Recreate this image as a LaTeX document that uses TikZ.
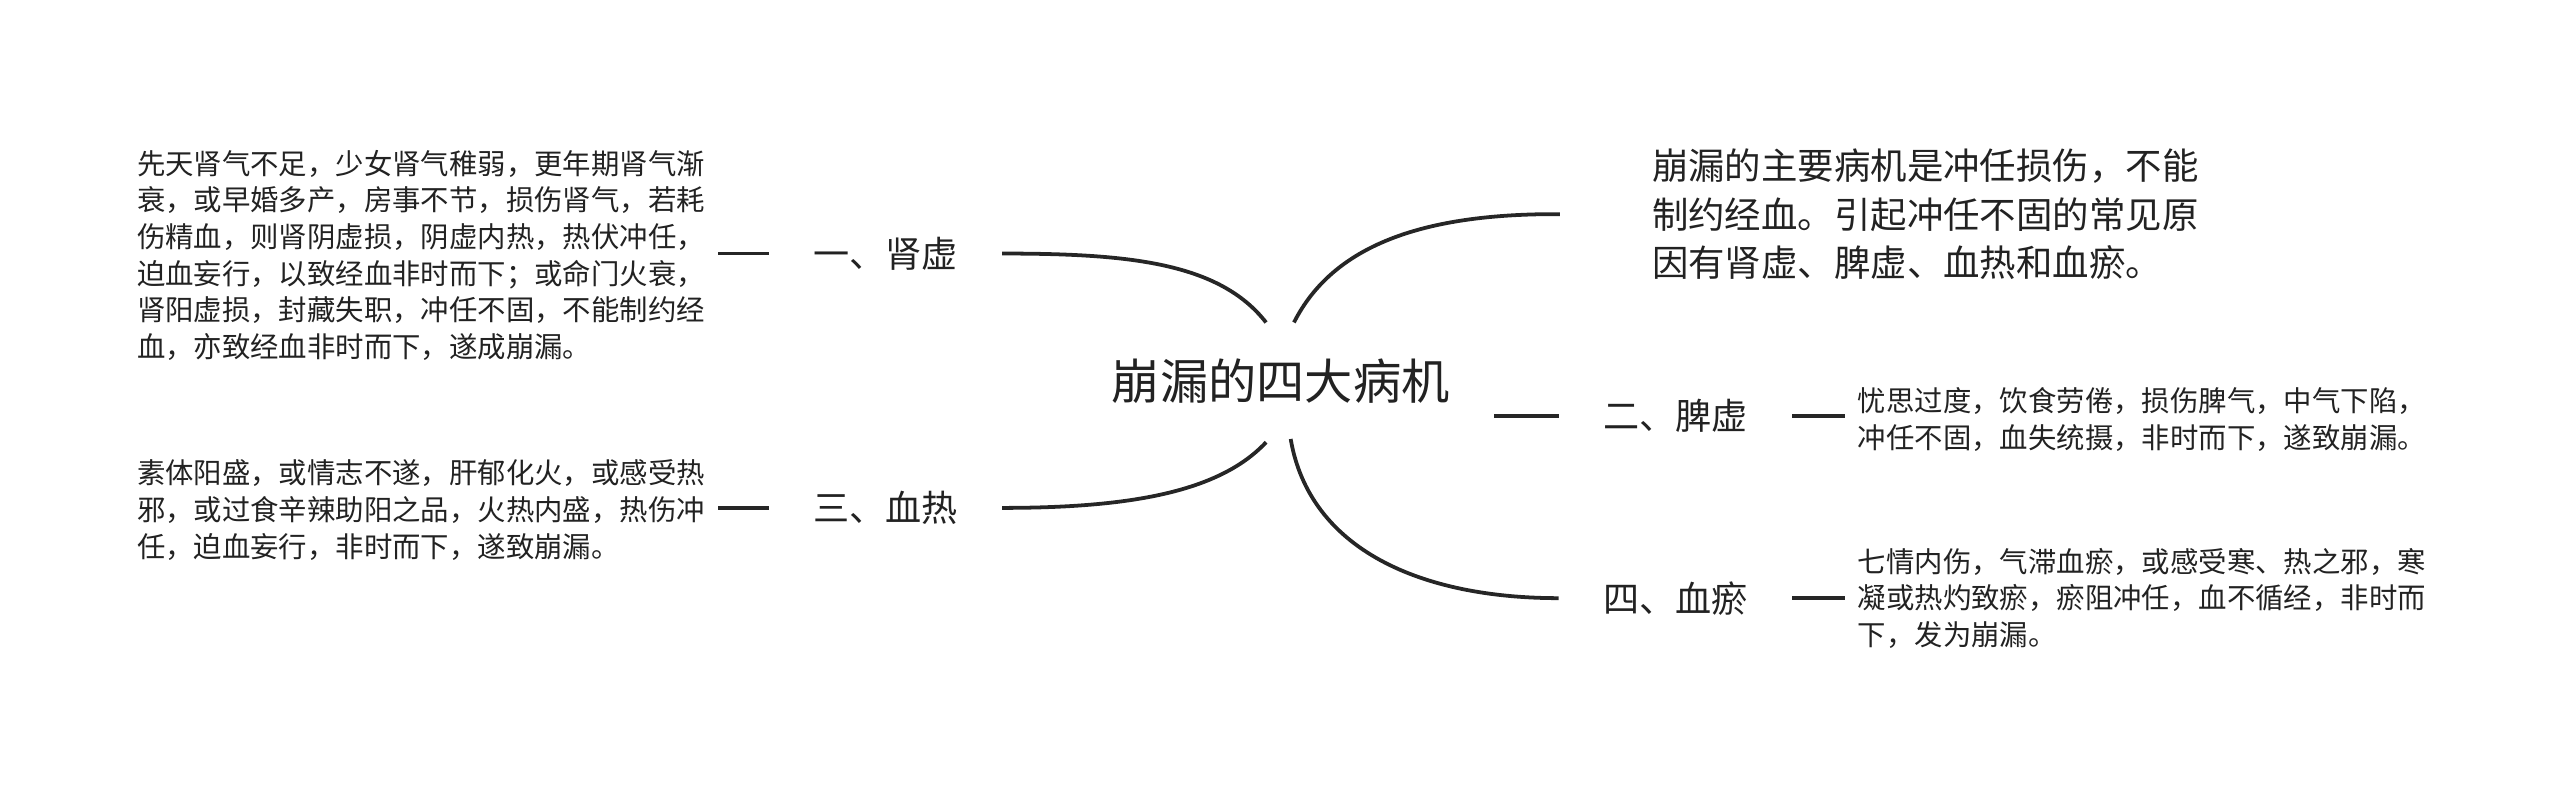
\documentclass[tikz,border=0pt]{standalone}
\usepackage{fontspec}
\newfontfamily\cjk{Noto Sans CJK SC}
\usetikzlibrary{calc}
\definecolor{ink}{HTML}{262626}
\definecolor{txt}{HTML}{222222}
\begin{document}
\begin{tikzpicture}[x=1pt,y=-1pt,
  body/.style={font=\cjk\fontsize{17.3}{22.3}\selectfont, text=txt, align=left, inner ysep=0pt, inner xsep=8pt},
  lab/.style={font=\cjk\fontsize{22}{27}\selectfont, text=txt, inner ysep=0pt, inner xsep=27pt},
  link/.style={draw=ink, line width=2.3pt},
]
\useasboundingbox (0,0) rectangle (1560,479);
\node[font=\cjk\fontsize{29.4}{34}\selectfont, text=txt, inner sep=0pt] (c) at (780.5,232.5) {崩漏的四大病机};

% left side
\node[lab] (n1) at (539.5,154.5) {一、肾虚};
\node[body, anchor=west] (t1) at (75.3,155.5) {先天肾气不足，少女肾气稚弱，更年期肾气渐\\衰，或早婚多产，房事不节，损伤肾气，若耗\\伤精血，则肾阴虚损，阴虚内热，热伏冲任，\\迫血妄行，以致经血非时而下；或命门火衰，\\肾阳虚损，封藏失职，冲任不固，不能制约经\\血，亦致经血非时而下，遂成崩漏。};
\node[lab] (n3) at (539.5,309.5) {三、血热};
\node[body, anchor=west] (t3) at (75.3,310.8) {素体阳盛，或情志不遂，肝郁化火，或感受热\\邪，或过食辛辣助阳之品，火热内盛，热伤冲\\任，迫血妄行，非时而下，遂致崩漏。};

% right side
\node[font=\cjk\fontsize{22.2}{29.5}\selectfont, text=txt, align=left, inner ysep=0pt, inner xsep=56pt, anchor=west] (t0) at (950.5,130.5) {崩漏的主要病机是冲任损伤，不能\\制约经血。引起冲任不固的常见原\\因有肾虚、脾虚、血热和血瘀。};
\node[lab] (n2) at (1021,253.5) {二、脾虚};
\node[body, anchor=west] (t2) at (1124,255.5) {忧思过度，饮食劳倦，损伤脾气，中气下陷，\\冲任不固，血失统摄，非时而下，遂致崩漏。};
\node[lab] (n4) at (1021,364.5) {四、血瘀};
\node[body, anchor=west] (t4) at (1124,364.5) {七情内伤，气滞血瘀，或感受寒、热之邪，寒\\凝或热灼致瘀，瘀阻冲任，血不循经，非时而\\下，发为崩漏。};

% connectors from centre
\coordinate (s1) at ($(c.center)+(-9,-36)$);
\coordinate (s3) at ($(c.center)+(-9,37)$);
\coordinate (s0) at ($(c.center)+(8,-36)$);
\coordinate (s4) at ($(c.center)+(6,35)$);
\coordinate (s2) at ($(c.center)+(130,0)$);
\draw[link] (s1) .. controls (743,160) and (688,154.5) .. (n1.east);
\draw[link] (s3) .. controls (743,300) and (688,309.5) .. (n3.east);
\draw[link] (s0) .. controls (812,150) and (866,130) .. (t0.west);
\draw[link] (s4) .. controls (798,335) and (866,364.5) .. (n4.west);
\draw[link] (s2 |- n2.west) -- (n2.west);

% connectors to detail texts
\draw[link] (n1.west -| t1.east) -- (n1.west);
\draw[link] (n3.west -| t3.east) -- (n3.west);
\draw[link] (n2.east) -- (n2.east -| t2.west);
\draw[link] (n4.east) -- (n4.east -| t4.west);
\end{tikzpicture}
\end{document}
